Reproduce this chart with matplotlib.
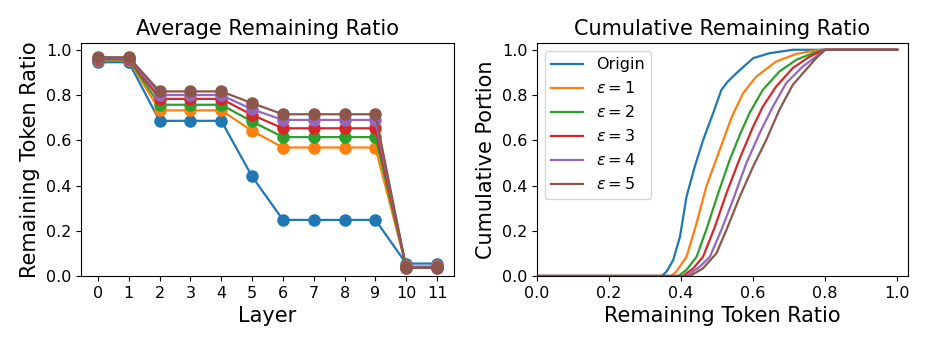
import numpy as np
import matplotlib
matplotlib.use("Agg")
import matplotlib.pyplot as plt

# left panel: average remaining ratio per layer
layers = list(range(12))
avg_origin = [0.945, 0.945, 0.686, 0.686, 0.686, 0.44, 0.248, 0.248, 0.248, 0.248, 0.055, 0.055]
avg_eps1 = [0.955, 0.955, 0.732, 0.732, 0.732, 0.642, 0.568, 0.568, 0.568, 0.568, 0.042, 0.042]
avg_eps2 = [0.958, 0.958, 0.757, 0.757, 0.757, 0.683, 0.614, 0.614, 0.614, 0.614, 0.04, 0.04]
avg_eps3 = [0.961, 0.961, 0.783, 0.783, 0.783, 0.712, 0.653, 0.653, 0.653, 0.653, 0.038, 0.038]
avg_eps4 = [0.964, 0.964, 0.80, 0.80, 0.80, 0.737, 0.69, 0.69, 0.69, 0.69, 0.037, 0.037]
avg_eps5 = [0.967, 0.967, 0.816, 0.816, 0.816, 0.764, 0.715, 0.715, 0.715, 0.715, 0.036, 0.036]

# right panel: cumulative portion vs remaining token ratio
cdf_origin_x = [0.0, 0.346, 0.36, 0.378, 0.397, 0.415, 0.438, 0.461, 0.489, 0.512, 0.53, 0.554, 0.60, 0.646, 0.71, 1.0]
cdf_origin_y = [0.0, 0.0, 0.02, 0.07, 0.174, 0.35, 0.484, 0.60, 0.72, 0.823, 0.86, 0.897, 0.963, 0.985, 1.0, 1.0]
cdf_eps1_x = [0.0, 0.372, 0.387, 0.415, 0.443, 0.47, 0.507, 0.54, 0.572, 0.609, 0.664, 0.72, 0.775, 0.793, 1.0]
cdf_eps1_y = [0.0, 0.0, 0.02, 0.085, 0.233, 0.395, 0.557, 0.70, 0.808, 0.882, 0.948, 0.982, 0.997, 1.0, 1.0]
cdf_eps2_x = [0.0, 0.392, 0.415, 0.443, 0.47, 0.503, 0.535, 0.563, 0.59, 0.627, 0.673, 0.72, 0.766, 0.795, 1.0]
cdf_eps2_y = [0.0, 0.0, 0.027, 0.085, 0.204, 0.366, 0.513, 0.624, 0.72, 0.823, 0.904, 0.956, 0.985, 1.0, 1.0]
cdf_eps3_x = [0.0, 0.405, 0.434, 0.461, 0.494, 0.526, 0.563, 0.60, 0.627, 0.664, 0.71, 0.757, 0.797, 1.0]
cdf_eps3_y = [0.0, 0.0, 0.034, 0.085, 0.218, 0.366, 0.52, 0.66, 0.749, 0.838, 0.919, 0.97, 1.0, 1.0]
cdf_eps4_x = [0.0, 0.415, 0.452, 0.48, 0.512, 0.544, 0.581, 0.618, 0.655, 0.692, 0.738, 0.775, 0.798, 1.0]
cdf_eps4_y = [0.0, 0.0, 0.041, 0.085, 0.204, 0.336, 0.498, 0.631, 0.749, 0.853, 0.926, 0.97, 1.0, 1.0]
cdf_eps5_x = [0.0, 0.425, 0.461, 0.498, 0.526, 0.563, 0.60, 0.636, 0.673, 0.71, 0.747, 0.775, 0.80, 1.0]
cdf_eps5_y = [0.0, 0.0, 0.034, 0.10, 0.204, 0.351, 0.484, 0.60, 0.735, 0.845, 0.912, 0.963, 1.0, 1.0]

labels = ["Origin", r"$\epsilon=1$", r"$\epsilon=2$", r"$\epsilon=3$", r"$\epsilon=4$", r"$\epsilon=5$"]

fig = plt.figure(figsize=(9.3, 3.49), dpi=100)
ax1 = fig.add_axes([81/930, 1 - 276/349, 373/930, 233/349])
ax2 = fig.add_axes([537/930, 1 - 276/349, 371/930, 233/349])

avg_all = [avg_origin, avg_eps1, avg_eps2, avg_eps3, avg_eps4, avg_eps5]
for vals, lab in zip(avg_all, labels):
    ax1.plot(layers, vals, marker='o', markersize=8, linewidth=1.6, label=lab)
ax1.set_xticks(layers)
ax1.set_ylim(0, 1.03)
ax1.set_title("Average Remaining Ratio", fontsize=15)
ax1.set_xlabel("Layer", fontsize=15)
ax1.set_ylabel("Remaining Token Ratio", fontsize=15)
ax1.tick_params(labelsize=11.5)

cdf_all = [(cdf_origin_x, cdf_origin_y), (cdf_eps1_x, cdf_eps1_y), (cdf_eps2_x, cdf_eps2_y),
           (cdf_eps3_x, cdf_eps3_y), (cdf_eps4_x, cdf_eps4_y), (cdf_eps5_x, cdf_eps5_y)]
for (xs, ys), lab in zip(cdf_all, labels):
    ax2.plot(xs, ys, linewidth=1.6, label=lab)
ax2.set_xlim(0, 1.03)
ax2.set_ylim(0, 1.03)
ax2.set_title("Cumulative Remaining Ratio", fontsize=15)
ax2.set_xlabel("Remaining Token Ratio", fontsize=15)
ax2.set_ylabel("Cumulative Portion", fontsize=15)
ax2.tick_params(labelsize=11.5)
ax2.legend(loc="upper left", fontsize=11.5)

fig.savefig("out.png", dpi=100)
